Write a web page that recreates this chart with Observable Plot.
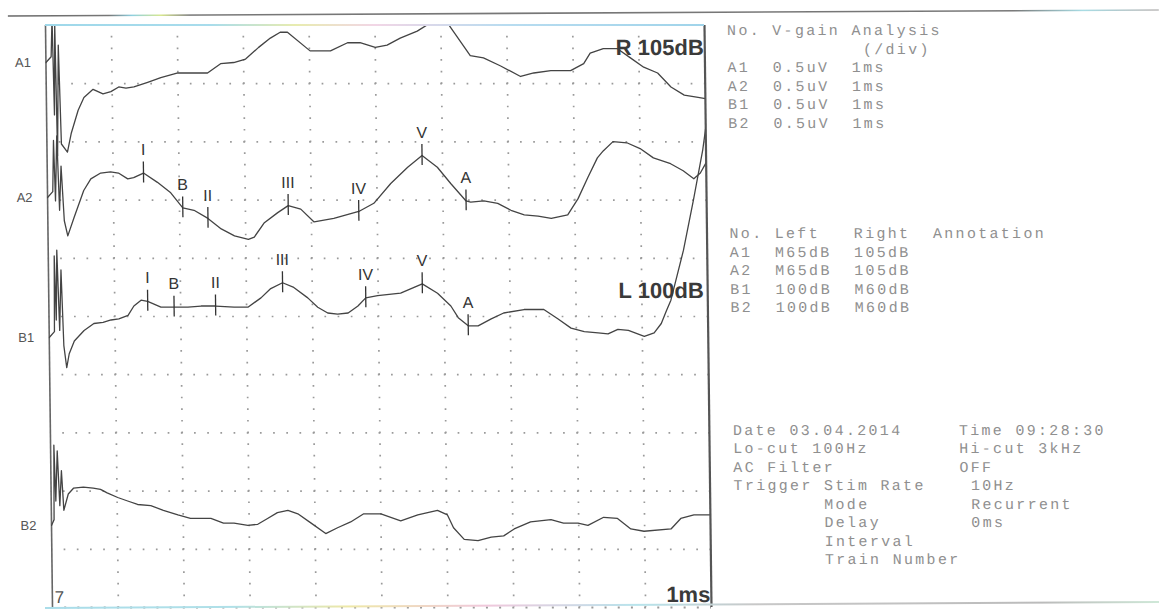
<!DOCTYPE html>
<html><head><meta charset="utf-8">
<script src="https://cdn.jsdelivr.net/npm/d3@7"></script>
<script src="https://cdn.jsdelivr.net/npm/@observablehq/plot@0.6"></script>
<style>
html,body{margin:0;padding:0;background:#fff;overflow:hidden;}
#page{position:relative;width:1159px;height:615px;transform:skewX(0.69deg);transform-origin:0 607px;}
#chart{position:absolute;left:0;top:0;}
#deco{position:absolute;left:0;top:0;pointer-events:none;overflow:visible;}
.panel{position:absolute;font-family:"Liberation Mono","DejaVu Sans Mono",monospace;font-size:15px;letter-spacing:2.3px;line-height:18.5px;color:#8f8f8f;white-space:pre;}
</style></head><body>
<div id="page">
  <div id="chart"></div>
  <svg id="deco" width="1159" height="615">
    <defs>
      <linearGradient id="gTop" gradientUnits="userSpaceOnUse" x1="0" y1="0" x2="1159" y2="0">
        <stop offset="0" stop-color="#666"/><stop offset="0.10" stop-color="#777"/>
        <stop offset="0.12" stop-color="#8fd0e0"/><stop offset="0.145" stop-color="#d8e890"/>
        <stop offset="0.17" stop-color="#777"/><stop offset="0.88" stop-color="#777"/>
        <stop offset="0.94" stop-color="#a8dce4"/><stop offset="1" stop-color="#bbb"/>
      </linearGradient>
      <linearGradient id="gFrame" gradientUnits="userSpaceOnUse" x1="52" y1="0" x2="711" y2="0">
        <stop offset="0" stop-color="#9fd8ea"/><stop offset="0.25" stop-color="#a8dcec"/>
        <stop offset="0.38" stop-color="#e8ecb0"/><stop offset="0.5" stop-color="#f2d6e6"/>
        <stop offset="0.7" stop-color="#b8dcf0"/><stop offset="1" stop-color="#a0d4ea"/>
      </linearGradient>
      <linearGradient id="gBottom" gradientUnits="userSpaceOnUse" x1="0" y1="0" x2="1159" y2="0">
        <stop offset="0" stop-color="#a8dcea"/><stop offset="0.2" stop-color="#b0e0e8"/>
        <stop offset="0.3" stop-color="#eee8a8"/><stop offset="0.42" stop-color="#f0c8dc"/>
        <stop offset="0.55" stop-color="#b8e4ec"/><stop offset="0.65" stop-color="#c8c8c8"/>
        <stop offset="0.9" stop-color="#bbb"/><stop offset="1" stop-color="#cfe8d8"/>
      </linearGradient>
    </defs>
    <line x1="15" y1="16" x2="1166" y2="10" stroke="url(#gTop)" stroke-width="1.6"/>
    <line x1="52" y1="25" x2="711" y2="25" stroke="url(#gFrame)" stroke-width="2.2"/>
    <line x1="45" y1="608" x2="1166" y2="602" stroke="url(#gBottom)" stroke-width="2"/>
  </svg>
  <div class="panel" id="p1" style="left:734px;top:23px;"></div>
  <div class="panel" id="p2" style="left:734px;top:226px;"></div>
  <div class="panel" id="p3" style="left:735px;top:422.5px;"></div>
</div>
<script>
// ---- data: time (ms) and amplitude (µV, relative to each channel's baseline) ----
const channelNames = ["A1", "A2", "B1", "B2"];
const gainPerDiv = 0.5; // µV per division
const timePerDiv = 1;   // ms per division

const a1Trace = [
  [0.00,0.00],[0.08,0.05],[0.10,0.38],[0.12,-0.45],[0.14,0.33],[0.16,-0.80],[0.19,0.15],[0.22,-0.70],
  [0.31,-0.77],[0.37,-0.61],[0.48,-0.41],[0.57,-0.30],[0.71,-0.23],[0.86,-0.27],[0.98,-0.25],[1.10,-0.21],
  [1.21,-0.22],[1.33,-0.21],[1.54,-0.17],[1.74,-0.13],[2.00,-0.09],[2.45,-0.09],[2.65,-0.01],[2.85,0.00],
  [3.03,0.03],[3.23,0.13],[3.41,0.21],[3.56,0.26],[3.67,0.26],[4.01,0.10],[4.32,0.10],[4.58,0.17],
  [4.77,0.17],[5.00,0.13],[5.18,0.15],[5.38,0.21],[5.64,0.27],[5.84,0.34],[5.96,0.45],[6.10,0.34],
  [6.44,0.06],[6.64,0.04],[6.90,-0.03],[7.20,-0.12],[7.40,-0.09],[7.66,-0.07],[7.96,-0.07],[8.16,-0.01],
  [8.26,0.08],[8.46,0.12],[8.67,0.12],[8.87,0.04],[9.07,-0.04],[9.28,-0.09],[9.48,-0.21],[9.68,-0.28],
  [9.89,-0.30],[10.0,-0.31]
];
const a2Trace = [
  [0.00,0.00],[0.08,0.05],[0.10,0.49],[0.12,-0.03],[0.15,0.53],[0.18,-0.11],[0.21,0.27],[0.25,-0.20],
  [0.30,-0.33],[0.40,-0.17],[0.55,0.06],[0.66,0.16],[0.81,0.21],[0.96,0.22],[1.08,0.21],[1.22,0.16],
  [1.31,0.17],[1.46,0.21],[1.67,0.13],[1.87,0.04],[2.05,-0.09],[2.22,-0.11],[2.43,-0.18],[2.63,-0.27],
  [2.83,-0.33],[3.04,-0.36],[3.13,-0.34],[3.28,-0.22],[3.49,-0.13],[3.65,-0.07],[3.84,-0.10],[4.04,-0.21],
  [4.34,-0.18],[4.72,-0.12],[4.95,-0.05],[5.21,0.12],[5.47,0.26],[5.69,0.36],[5.92,0.26],[6.12,0.12],
  [6.35,-0.03],[6.42,-0.04],[6.62,-0.03],[6.83,-0.05],[7.03,-0.11],[7.23,-0.15],[7.44,-0.16],[7.64,-0.18],
  [7.89,-0.15],[8.05,-0.01],[8.20,0.17],[8.35,0.34],[8.44,0.40],[8.59,0.48],[8.80,0.47],[9.00,0.42],
  [9.20,0.34],[9.46,0.29],[9.65,0.23],[9.81,0.16],[9.91,0.21],[10.0,0.30]
];
const b1Trace = [
  [0.00,0.00],[0.08,0.05],[0.09,0.70],[0.11,0.15],[0.13,0.75],[0.16,0.06],[0.19,0.58],[0.22,-0.07],
  [0.26,-0.26],[0.30,-0.14],[0.38,-0.03],[0.53,0.06],[0.68,0.12],[0.82,0.13],[0.94,0.15],[1.06,0.16],
  [1.20,0.19],[1.29,0.27],[1.40,0.32],[1.50,0.31],[1.70,0.26],[1.90,0.26],[2.11,0.26],[2.31,0.27],
  [2.53,0.27],[2.81,0.26],[3.02,0.26],[3.22,0.34],[3.37,0.42],[3.55,0.47],[3.72,0.43],[3.93,0.34],
  [4.08,0.26],[4.23,0.21],[4.38,0.20],[4.54,0.21],[4.69,0.27],[4.81,0.34],[4.99,0.36],[5.34,0.38],
  [5.67,0.46],[5.90,0.38],[6.10,0.27],[6.21,0.17],[6.36,0.10],[6.51,0.10],[6.71,0.16],[6.90,0.21],
  [7.21,0.24],[7.51,0.24],[7.72,0.16],[7.92,0.08],[8.12,0.05],[8.33,0.04],[8.48,0.03],[8.63,0.07],
  [8.79,0.06],[9.03,0.01],[9.18,0.04],[9.29,0.12],[9.37,0.23],[9.44,0.32],[9.64,0.75],[9.80,1.18],
  [9.95,1.61],[10.0,1.80]
];
const b2Trace = [
  [0.00,0.00],[0.04,0.05],[0.05,0.69],[0.07,0.21],[0.10,0.64],[0.13,0.17],[0.16,0.47],[0.19,0.13],
  [0.26,0.27],[0.34,0.32],[0.49,0.33],[0.64,0.32],[0.75,0.31],[0.85,0.28],[1.01,0.24],[1.16,0.21],
  [1.31,0.18],[1.51,0.17],[1.70,0.13],[1.92,0.09],[2.11,0.06],[2.42,0.06],[2.61,0.02],[2.77,0.02],
  [2.98,0.00],[3.13,0.01],[3.28,0.06],[3.43,0.11],[3.59,0.13],[3.74,0.10],[3.94,0.02],[4.16,-0.07],
  [4.34,-0.02],[4.54,0.03],[4.74,0.10],[5.00,0.10],[5.30,0.04],[5.56,0.09],[5.86,0.13],[6.01,0.09],
  [6.10,-0.02],[6.26,-0.12],[6.47,-0.13],[6.67,-0.10],[6.86,-0.09],[7.02,-0.03],[7.27,0.03],[7.58,0.05],
  [7.77,0.02],[7.99,0.02],[8.14,0.00],[8.38,0.07],[8.59,0.06],[8.79,-0.03],[8.99,-0.05],[9.40,-0.03],
  [9.55,0.06],[9.75,0.09],[10.0,0.09]
];

// wave markers (peak labels and latencies, ms)
const waveLabels = ["I", "B", "II", "III", "IV", "V", "A"];
const a2WaveT = [1.46, 2.05, 2.43, 3.65, 4.72, 5.69, 6.35];
const b1WaveT = [1.50, 1.90, 2.53, 3.55, 4.81, 5.67, 6.36];

// side-panel values
const vGain = ["0.5uV", "0.5uV", "0.5uV", "0.5uV"];
const analysis = ["1ms", "1ms", "1ms", "1ms"];
const leftLevel = ["M65dB", "M65dB", "100dB", "100dB"];
const rightLevel = ["105dB", "105dB", "M60dB", "M60dB"];
const stimTitles = ["R 105dB", "L 100dB"];
const settingsLeft = ["Date 03.04.2014", "Lo-cut 100Hz", "AC Filter", "Trigger Stim Rate", "        Mode", "        Delay", "        Interval", "        Train Number"];
const settingsRight = ["Time 09:28:30", "Hi-cut 3kHz", "OFF", " 10Hz", " Recurrent", " 0ms", "", ""];

// ---- layout ----
const channelOffsets = [0.636, 2.955, 5.36, 8.59]; // baseline of each channel, in divisions from top
const traces = [a1Trace, a2Trace, b1Trace, b2Trace];

const rows = channelNames.flatMap((name, i) =>
  traces[i].map(([t, v]) => ({ch: name, t: t / timePerDiv, y: channelOffsets[i] - v / gainPerDiv})));

function valueAt(trace, t) {
  for (let i = 0; i < trace.length - 1; i++) {
    const [t0, v0] = trace[i], [t1, v1] = trace[i + 1];
    if (t >= t0 && t <= t1) return v0 + (v1 - v0) * (t - t0) / (t1 - t0);
  }
  return trace[trace.length - 1][1];
}
const markers = [
  ...waveLabels.map((l, j) => ({label: l, t: a2WaveT[j], y: channelOffsets[1] - valueAt(a2Trace, a2WaveT[j]) / gainPerDiv})),
  ...waveLabels.map((l, j) => ({label: l, t: b1WaveT[j], y: channelOffsets[2] - valueAt(b1Trace, b1WaveT[j]) / gainPerDiv}))
];
const chanLabels = channelNames.map((n, i) => ({name: n, y: channelOffsets[i]}));

const W = 1159, H = 615;
const dots = "#9a9a9a";
const chart = Plot.plot({
  width: W, height: H,
  marginLeft: 52, marginRight: W - 711, marginTop: 25, marginBottom: 8,
  x: {domain: [0, 10], axis: null},
  y: {domain: [0, 10], reverse: true, axis: null},
  style: {background: "transparent", fontFamily: "Liberation Sans, Arial, sans-serif", overflow: "visible"},
  marks: [
    Plot.ruleX(d3.range(1, 10), {stroke: dots, strokeWidth: 1.7, strokeDasharray: "1.7,9.94", strokeDashoffset: 0.85}),
    Plot.ruleY(d3.range(1, 10), {stroke: dots, strokeWidth: 1.7, strokeDasharray: "1.7,11.48", strokeDashoffset: 0.85}),
    Plot.ruleY([10], {stroke: dots, strokeWidth: 2.2, strokeDasharray: "2,11.18", strokeDashoffset: 1}),
    Plot.ruleX([0], {stroke: "#666", strokeWidth: 1.6}),
    Plot.ruleX([10], {stroke: "#555", strokeWidth: 2.2}),
    Plot.line(rows, {x: "t", y: "y", z: "ch", stroke: "#444", strokeWidth: 1.3, clip: true}),
    Plot.ruleX(markers, {x: "t", y1: d => d.y - 0.19, y2: d => d.y + 0.17, stroke: "#333", strokeWidth: 1.3}),
    Plot.text(markers, {x: "t", y: "y", text: "label", dy: -23, fontSize: 16, fill: "#333"}),
    Plot.text(chanLabels, {frameAnchor: "left", y: "y", text: "name", dx: -23, fontSize: 13, fill: "#555", textAnchor: "middle"}),
    Plot.text([stimTitles[0]], {frameAnchor: "top-right", dx: -1, dy: 22, textAnchor: "end", lineAnchor: "middle", fontSize: 22, fontWeight: "bold", fill: "#3a3a3a"}),
    Plot.text([stimTitles[1]], {frameAnchor: "top-right", dx: -4, dy: 265, textAnchor: "end", lineAnchor: "middle", fontSize: 22, fontWeight: "bold", fill: "#3a3a3a"}),
    Plot.text(["1ms"], {frameAnchor: "bottom-right", dx: -1, dy: -13, textAnchor: "end", lineAnchor: "middle", fontSize: 22, fontWeight: "bold", fill: "#3a3a3a"}),
    Plot.text(["7"], {frameAnchor: "bottom-left", dx: 7, dy: -10, textAnchor: "middle", lineAnchor: "middle", fontSize: 17, fill: "#555"})
  ]
});
document.getElementById("chart").appendChild(chart);

// side panel text
const p1 = ["No. V-gain Analysis", "            (/div)",
  ...channelNames.map((n, i) => n.padEnd(4) + vGain[i].padEnd(7) + analysis[i])];
document.getElementById("p1").textContent = p1.join("\n");
const p2 = ["No. Left   Right  Annotation",
  ...channelNames.map((n, i) => n.padEnd(4) + leftLevel[i].padEnd(7) + rightLevel[i])];
document.getElementById("p2").textContent = p2.join("\n");
const p3 = settingsLeft.map((s, i) => settingsRight[i] ? s.padEnd(20) + settingsRight[i] : s);
document.getElementById("p3").textContent = p3.join("\n");
</script>
</body></html>
